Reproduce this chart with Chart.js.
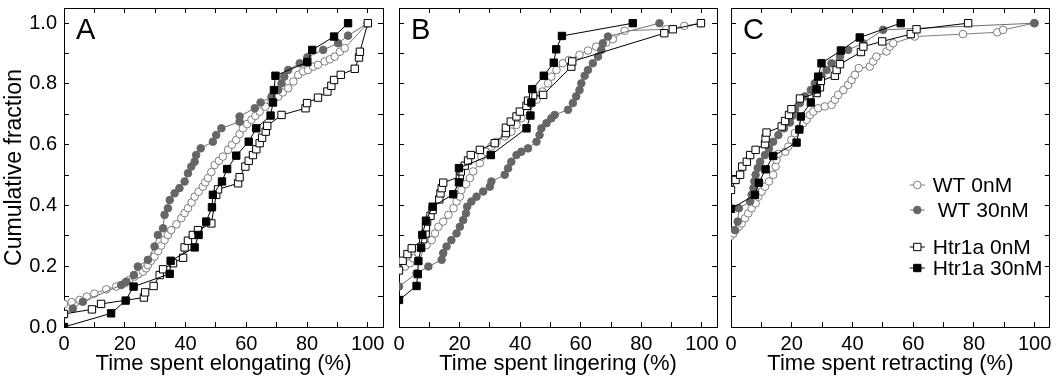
<!DOCTYPE html>
<html>
<head>
<meta charset="utf-8">
<script src="https://cdn.jsdelivr.net/npm/chart.js@4.4.1/dist/chart.umd.min.js"></script>
<style>
  body { margin: 0; background: #fff; }
  #wrap { position: relative; width: 1056px; height: 388px; }
  canvas { position: absolute; top: 0; }
</style>
</head>
<body>
<div id="wrap">
  <canvas id="cA" width="392" height="388" style="left:0px"></canvas>
  <canvas id="cB" width="332" height="388" style="left:392px"></canvas>
  <canvas id="cC" width="332" height="388" style="left:724px"></canvas>
</div>
<script>
// ---- data: [time spent (%), cumulative fraction] ----
const seriesNames = ['WT 0nM', 'WT 30nM', 'Htr1a 0nM', 'Htr1a 30nM'];
const panelLetters = ['A', 'B', 'C'];
const xTitles = ['Time spent elongating (%)', 'Time spent lingering (%)', 'Time spent retracting (%)'];
const yTitle = 'Cumulative fraction';
const xTickLabels = ['0', '20', '40', '60', '80', '100'];
const yTickLabels = ['0.0', '0.2', '0.4', '0.6', '0.8', '1.0'];

// A: elongating
const elongWT0 = [[0,0.076],[2.5,0.082],[5.1,0.089],[7.5,0.1],[10,0.11],[13.9,0.124],[17.2,0.133],[20,0.144],
  [21.5,0.155],[23.2,0.166],[24.5,0.174],[26,0.182],[27,0.193],[27.6,0.204],[28.7,0.218],[29.8,0.232],[31,0.25],
  [32,0.268],[33.1,0.286],[34.2,0.303],[35.3,0.319],[37,0.338],[38.6,0.358],[39.7,0.375],[40.8,0.391],[42,0.41],
  [43,0.429],[44.3,0.445],[45.7,0.462],[46.5,0.476],[47.4,0.49],[48.5,0.51],[49.6,0.533],[51,0.547],[52.3,0.561],
  [54,0.583],[55.3,0.6],[56.7,0.616],[57.8,0.635],[58.9,0.654],[60.3,0.668],[61.7,0.682],[63,0.695],[64.4,0.709],
  [66.3,0.725],[68.3,0.742],[70.5,0.758],[72,0.772],[73.8,0.786],[75.5,0.808],[77.1,0.83],[78.7,0.841],[80.3,0.846],
  [82,0.857],[83.6,0.863],[85.8,0.874],[87.5,0.881],[89.1,0.89],[90.8,0.906],[92.4,0.918],[100,1.0]];
const elongWT30 = [[0,0.04],[2.9,0.061],[6.2,0.083],[18.8,0.138],[20.5,0.149],[23,0.171],[24.3,0.199],[27.6,0.221],
  [29.8,0.265],[30.9,0.303],[32.6,0.325],[33.1,0.369],[34.2,0.391],[34.8,0.418],[36.4,0.44],[38,0.457],[39.7,0.479],
  [40.8,0.506],[41.9,0.528],[43,0.544],[43.5,0.566],[45,0.588],[49,0.61],[50.1,0.632],[51.8,0.654],[57.8,0.676],
  [57.8,0.693],[62.8,0.72],[64.7,0.739],[68.3,0.758],[70.5,0.78],[71.6,0.802],[72.5,0.824],[73.8,0.846],[77.6,0.868],
  [80.1,0.888],[85.3,0.912],[90.2,0.934],[93.5,0.959],[100,1.0]];
const elongH0 = [[0,0.043],[9.2,0.058],[12.2,0.076],[26.3,0.097],[26.7,0.114],[29.5,0.135],[31.5,0.171],[32.6,0.19],
  [35.9,0.21],[39.2,0.228],[39.7,0.262],[40.8,0.284],[42.4,0.303],[44.1,0.319],[48.5,0.341],[50.1,0.435],[50.7,0.453],
  [57.3,0.473],[57.8,0.493],[59.7,0.528],[60.8,0.547],[62.2,0.566],[63.3,0.585],[64.4,0.605],[65.2,0.623],[66.4,0.643],
  [66.9,0.662],[71.6,0.698],[79.5,0.72],[80,0.737],[83.6,0.755],[86.7,0.775],[88,0.794],[88.9,0.813],[91.1,0.83],
  [95.7,0.85],[97.1,0.887],[97.4,0.906],[100,1.0]];
const elongH30 = [[0,0],[15.5,0.045],[20.3,0.087],[22.9,0.133],[34.8,0.175],[35.1,0.218],[43,0.262],[44.3,0.303],
  [46.8,0.347],[48.7,0.394],[49,0.435],[52,0.479],[53.7,0.52],[56.7,0.564],[60.8,0.61],[63.3,0.654],[68,0.696],
  [68.8,0.739],[69.1,0.78],[69.6,0.827],[80.1,0.872],[81.7,0.912],[88.9,0.956],[93.5,1.0]];

// B: lingering
const lingerWT0 = [[0,0.19],[2,0.199],[3.6,0.21],[4.7,0.226],[6.4,0.243],[7.5,0.259],[9.1,0.27],[10.8,0.286],
  [11.9,0.308],[13,0.33],[14.6,0.347],[16.3,0.369],[18,0.391],[19,0.413],[20.1,0.429],[20.6,0.451],[22.1,0.47],
  [23.4,0.49],[24.5,0.512],[26.7,0.539],[27.2,0.561],[28.7,0.577],[30.5,0.594],[32.2,0.61],[34.9,0.627],[37.1,0.643],
  [38.8,0.665],[40.4,0.687],[41.5,0.709],[43.2,0.731],[45.4,0.748],[47.3,0.775],[49.2,0.802],[50.3,0.824],[52,0.846],
  [54.1,0.868],[56.1,0.879],[59.6,0.896],[62.4,0.91],[65.1,0.923],[68.4,0.936],[70.6,0.947],[74.5,0.975],[88.2,0.98],
  [94.2,0.991],[99.7,1.0]];
const lingerWT30 = [[0,0.133],[5.8,0.177],[9.7,0.199],[14.1,0.221],[14.6,0.243],[15.7,0.265],[17.3,0.286],[19,0.308],
  [20.1,0.33],[21.2,0.352],[22.1,0.374],[22.5,0.396],[23.9,0.413],[25.6,0.429],[27.8,0.446],[30,0.462],[30.5,0.479],
  [34.9,0.501],[36,0.522],[37.1,0.544],[38.8,0.566],[40.4,0.577],[42.6,0.588],[45.4,0.61],[46.4,0.632],[47,0.654],
  [48.7,0.671],[50.3,0.687],[51.4,0.698],[55.8,0.715],[57.4,0.737],[58.5,0.759],[59.6,0.78],[60.2,0.802],[61.3,0.827],
  [62.4,0.846],[64,0.868],[65.7,0.89],[66.8,0.912],[67.3,0.934],[69,0.956],[86,1.0]];
const lingerH0 = [[0,0.186],[1.2,0.218],[2.8,0.24],[4.2,0.259],[8,0.289],[8.8,0.308],[8.9,0.328],[9.3,0.347],
  [10.4,0.366],[11.1,0.385],[13.3,0.42],[13.7,0.44],[14.1,0.457],[14.6,0.475],[20.1,0.495],[20.4,0.512],[21.7,0.531],
  [22.8,0.548],[23.7,0.566],[26.7,0.583],[31.6,0.605],[35.3,0.638],[35.3,0.656],[36.9,0.676],[38.8,0.693],[39.9,0.709],
  [42.1,0.728],[42.6,0.745],[44.3,0.762],[47.6,0.764],[56.9,0.857],[57.2,0.874],[87.6,0.967],[90.4,0.98],[99.7,1.0]];
const lingerH30 = [[0,0.089],[5.8,0.135],[6.2,0.174],[6.4,0.217],[7.3,0.261],[7.7,0.303],[8.9,0.35],[11.1,0.396],
  [17.9,0.437],[19.8,0.476],[19.8,0.523],[30.3,0.566],[42.1,0.654],[43.4,0.696],[43.7,0.739],[44,0.783],[47.8,0.827],
  [51.1,0.87],[51.9,0.914],[53.8,0.958],[77.2,1.0]];

// C: retracting
const retractWT0 = [[0,0.3],[0.8,0.308],[1.5,0.319],[2.6,0.33],[3.5,0.341],[4.6,0.358],[5.7,0.374],[6.8,0.391],
  [8.1,0.407],[9,0.429],[10.1,0.446],[11.2,0.462],[12.5,0.479],[13.9,0.501],[14.7,0.528],[15,0.55],[15.6,0.57],
  [17.9,0.577],[18.9,0.594],[19.9,0.616],[21,0.638],[22.7,0.654],[23.8,0.671],[24.9,0.682],[26,0.698],[27.1,0.709],
  [28.7,0.72],[30.9,0.726],[33.1,0.731],[34.2,0.748],[35.3,0.764],[37,0.78],[38.6,0.797],[39.7,0.813],[40.8,0.83],
  [42.1,0.852],[45.7,0.857],[46.8,0.874],[47.9,0.89],[51.2,0.907],[52.3,0.923],[53.4,0.934],[60.5,0.956],[76.4,0.964],
  [87.7,0.97],[89.6,0.978],[99.8,1.0]];
const retractWT30 = [[1.3,0.319],[2.2,0.347],[2.6,0.391],[6.3,0.413],[6.8,0.435],[7.4,0.457],[7.7,0.479],[8.1,0.501],
  [8.8,0.523],[9.6,0.544],[11.2,0.566],[12.5,0.588],[13.9,0.61],[15.6,0.632],[17.5,0.654],[19.4,0.673],[20.2,0.695],
  [21.1,0.717],[22.7,0.737],[24.3,0.759],[26.3,0.78],[27.6,0.802],[29.8,0.827],[31.5,0.846],[33.1,0.868],[35.9,0.89],
  [38.6,0.912],[43.5,0.934],[50.1,0.978],[100,1.0]];
const retractH0 = [[0,0.451],[1.5,0.484],[3,0.501],[3.7,0.528],[5.2,0.544],[6.3,0.566],[8.1,0.583],[11.2,0.602],
  [11.4,0.621],[11.7,0.64],[16.7,0.66],[17.8,0.678],[19.1,0.698],[19.9,0.717],[22.7,0.752],[28.2,0.77],[29.3,0.789],
  [29.6,0.81],[34.2,0.827],[34.8,0.846],[35.9,0.865],[42.8,0.905],[43.6,0.923],[49.8,0.94],[59.2,0.964],[61.1,0.98],
  [78.1,1.0]];
const retractH30 = [[0,0.389],[7.9,0.435],[9.2,0.475],[11.4,0.519],[13.9,0.563],[21.6,0.607],[22.5,0.65],[23,0.693],
  [26.3,0.739],[28.2,0.782],[28.7,0.824],[29.8,0.868],[36.2,0.91],[42.4,0.953],[55.9,1.0]];

const panelSeries = [
  [elongWT0, elongWT30, elongH0, elongH30],
  [lingerWT0, lingerWT30, lingerH0, lingerH30],
  [retractWT0, retractWT30, retractH0, retractH30]
];

// ---- styling ----
Chart.defaults.font.family = '"Liberation Sans", Arial, sans-serif';
Chart.defaults.color = '#000';

const seriesStyle = [
  { line: '#7c7c7c', fill: '#ffffff', edge: '#7c7c7c', shape: 'circle', r: 3.8 },
  { line: '#6e6e6e', fill: '#666666', edge: '#666666', shape: 'circle', r: 3.8 },
  { line: '#000000', fill: '#ffffff', edge: '#000000', shape: 'rect', r: 5.2 },
  { line: '#000000', fill: '#000000', edge: '#000000', shape: 'rect', r: 5.2 }
];

function fixSize(prop, px) {
  return function (scale) {
    scale[prop] = px;
    scale.paddingLeft = scale.paddingRight = scale.paddingTop = scale.paddingBottom = 0;
  };
}

const tickGrid = { drawOnChartArea: false, color: '#000', tickLength: -5, lineWidth: 1 };
const frame = { color: '#000', width: 1 };

// panel letter in the top-left corner
const panelTag = {
  id: 'panelTag',
  afterDraw(chart, args, opts) {
    const ctx = chart.ctx, a = chart.chartArea;
    ctx.save();
    ctx.font = '29px "Liberation Sans", Arial, sans-serif';
    ctx.fillStyle = '#000';
    ctx.textBaseline = 'alphabetic';
    ctx.fillText(opts.text, a.left + 12, a.top + 31);
    ctx.restore();
  }
};

// key drawn inside panel C
const seriesKey = {
  id: 'seriesKey',
  afterDraw(chart, args, opts) {
    if (!opts.show) return;
    const ctx = chart.ctx, a = chart.chartArea;
    const rowY = [185, 210, 247, 268];
    const x0 = a.right - 140, x1 = a.right - 125, xm = (x0 + x1) / 2;
    ctx.save();
    ctx.font = '21px "Liberation Sans", Arial, sans-serif';
    ctx.textBaseline = 'middle';
    seriesNames.forEach((name, i) => {
      const s = seriesStyle[i], y = rowY[i];
      ctx.strokeStyle = s.line;
      ctx.lineWidth = 1;
      ctx.beginPath(); ctx.moveTo(x0, y); ctx.lineTo(x1, y); ctx.stroke();
      ctx.fillStyle = s.fill; ctx.strokeStyle = s.edge;
      ctx.beginPath();
      if (s.shape === 'circle') ctx.arc(xm, y, s.r, 0, Math.PI * 2);
      else { const h = s.r * Math.SQRT1_2; ctx.rect(xm - h, y - h, 2 * h, 2 * h); }
      ctx.fill(); ctx.stroke();
      ctx.fillStyle = '#000';
      ctx.fillText(name, a.right - 117 + (i === 1 ? 5 : 0), y + 1);
    });
    ctx.restore();
  }
};

function makePanel(canvasId, p, pad) {
  const first = p === 0;
  const datasets = panelSeries[p].map((pts, i) => ({
    label: seriesNames[i],
    data: pts.map(d => ({ x: d[0], y: d[1] })),
    borderColor: seriesStyle[i].line,
    borderWidth: 1,
    pointStyle: seriesStyle[i].shape,
    pointRadius: seriesStyle[i].r,
    pointBackgroundColor: seriesStyle[i].fill,
    pointBorderColor: seriesStyle[i].edge,
    pointBorderWidth: 1,
    tension: 0,
    order: 3 - i
  }));

  return new Chart(document.getElementById(canvasId).getContext('2d'), {
    type: 'line',
    data: { datasets },
    plugins: [panelTag, seriesKey],
    options: {
      responsive: false,
      animation: false,
      layout: { padding: pad },
      plugins: {
        legend: { display: false },
        tooltip: { enabled: false },
        panelTag: { text: panelLetters[p] },
        seriesKey: { show: p === 2 }
      },
      scales: {
        x: {
          type: 'linear', position: 'bottom', min: 0, max: 105,
          grid: tickGrid, border: frame,
          ticks: {
            stepSize: 10, includeBounds: false, autoSkip: false, maxRotation: 0,
            padding: 10, font: { size: 20 }, color: '#000',
            callback: v => xTickLabels.includes(String(v)) ? String(v) : ''
          },
          title: { display: true, text: xTitles[p], font: { size: 22 }, color: '#000', padding: { top: 0, bottom: 11 } },
          afterFit: fixSize('height', 61)
        },
        xTop: {
          type: 'linear', position: 'top', min: 0, max: 105,
          grid: tickGrid, border: frame,
          ticks: { stepSize: 10, includeBounds: false, display: false },
          afterFit: fixSize('height', 0)
        },
        y: {
          type: 'linear', position: 'left', min: 0, max: 1.05,
          grid: tickGrid, border: frame,
          ticks: {
            display: first, stepSize: 0.1, includeBounds: false, autoSkip: false,
            padding: 12, font: { size: 20 }, color: '#000',
            callback: v => yTickLabels.includes(v.toFixed(1)) ? v.toFixed(1) : ''
          },
          title: { display: first, text: yTitle, font: { size: 23 }, color: '#000', padding: { top: 1, bottom: 0 } },
          afterFit: fixSize('width', first ? 64 : 0)
        },
        yRight: {
          type: 'linear', position: 'right', min: 0, max: 1.05,
          grid: tickGrid, border: frame,
          ticks: { stepSize: 0.1, includeBounds: false, display: false },
          afterFit: fixSize('width', 0)
        }
      }
    }
  });
}

makePanel('cA', 0, { top: 8, right: 9, bottom: 0, left: 0 });
makePanel('cB', 1, { top: 8, right: 7, bottom: 0, left: 7 });
makePanel('cC', 2, { top: 8, right: 6, bottom: 0, left: 7 });
</script>
</body>
</html>
